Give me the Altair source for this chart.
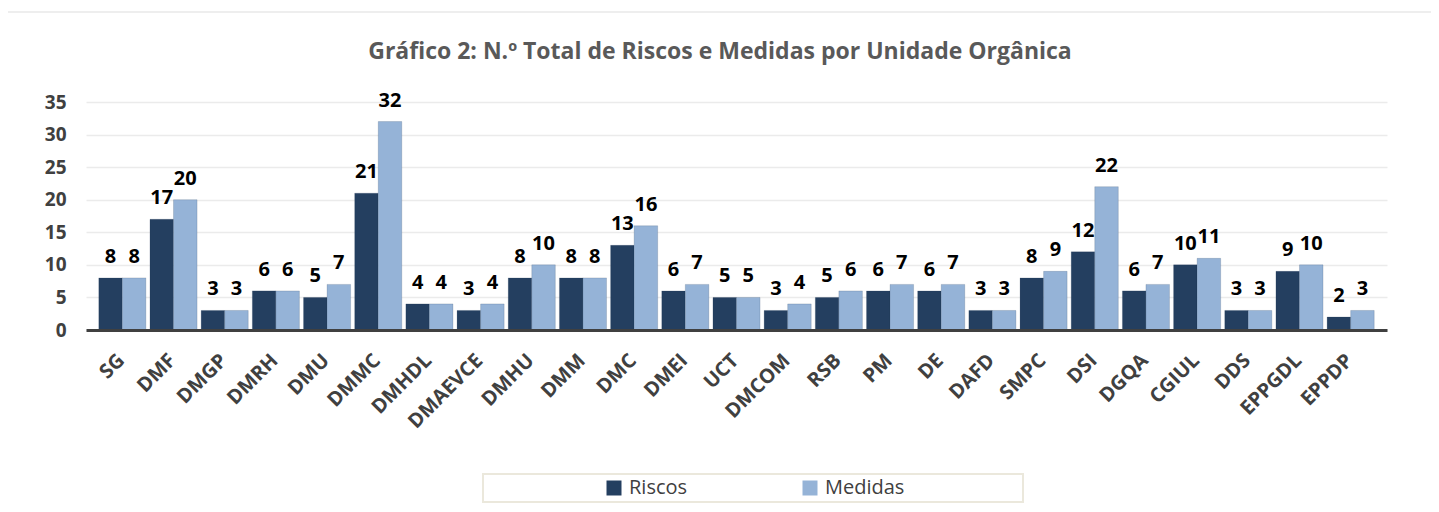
import altair as alt
import pandas as pd

categories = ["SG", "DMF", "DMGP", "DMRH", "DMU", "DMMC", "DMHDL", "DMAEVCE", "DMHU", "DMM",
              "DMC", "DMEI", "UCT", "DMCOM", "RSB", "PM", "DE", "DAFD", "SMPC", "DSI",
              "DGQA", "CGIUL", "DDS", "EPPGDL", "EPPDP"]
riscos = [8, 17, 3, 6, 5, 21, 4, 3, 8, 8, 13, 6, 5, 3, 5, 6, 6, 3, 8, 12, 6, 10, 3, 9, 2]
medidas = [8, 20, 3, 6, 7, 32, 4, 4, 10, 8, 16, 7, 5, 4, 6, 7, 7, 3, 9, 22, 7, 11, 3, 10, 3]
series = ["Riscos", "Medidas"]
colors = ["#243F60", "#95B3D7"]
y_ticks = [0, 5, 10, 15, 20, 25, 30, 35]
title_text = "Gráfico 2: N.º Total de Riscos e Medidas por Unidade Orgânica"

rows = []
for c, r, m in zip(categories, riscos, medidas):
    rows.append({"Unidade": c, "Série": "Riscos", "Valor": r})
    rows.append({"Unidade": c, "Série": "Medidas", "Valor": m})
df = pd.DataFrame(rows)

FONT = "Open Sans"
W, H = 1301, 228

x_enc = alt.X("Unidade:N", sort=categories,
              scale=alt.Scale(paddingInner=0.08, paddingOuter=0.25),
              axis=alt.Axis(title=None, labelAngle=-45, labelAlign="right", labelBaseline="top",
                            labelFont=FONT, labelFontSize=20, labelFontWeight="bold",
                            labelColor="#404040", labelPadding=20, labelOffset=-8, ticks=False,
                            tickSize=0, labelOverlap=False,
                            domainColor="#404040", domainWidth=3, grid=False, zindex=1))
y_enc = alt.Y("Valor:Q", scale=alt.Scale(domain=[0, 35], nice=False),
              axis=alt.Axis(title=None, values=y_ticks, labelFont=FONT, labelFontSize=19,
                            labelFontWeight="bold", labelColor="#404040", labelPadding=20,
                            labelOverlap=False, tickSize=0,
                            ticks=False, domain=False, grid=True, gridColor="#ebebeb",
                            gridWidth=1.5))
xoff = alt.XOffset("Série:N", sort=series, scale=alt.Scale(paddingInner=0, paddingOuter=0))
color_enc = alt.Color("Série:N", sort=series,
                      scale=alt.Scale(domain=series, range=colors),
                      legend=alt.Legend(title=None, orient="none", legendX=518, legendY=376,
                                        direction="horizontal", symbolType="square",
                                        symbolSize=225, symbolStrokeWidth=0,
                                        labelFont=FONT, labelFontSize=20, labelColor="#404040",
                                        labelOffset=5, columnPadding=112))

frame_df = pd.DataFrame({"k": [0]})
outer = alt.Chart(frame_df).mark_rect(fill="white", fillOpacity=0, stroke="#eeeeee",
                                      strokeWidth=2).encode(
    x=alt.value(-80), x2=alt.value(1346), y=alt.value(-90), y2=alt.value(420))
legend_box = alt.Chart(frame_df).mark_rect(fill="white", stroke="#ebe8dc", strokeWidth=2).encode(
    x=alt.value(397), x2=alt.value(937), y=alt.value(372), y2=alt.value(400))
title_mark = alt.Chart(pd.DataFrame({"t": [title_text]})).mark_text(
    font=FONT, fontSize=23, fontWeight="bold", color="#595959", align="center",
    baseline="middle").encode(x=alt.value(634), y=alt.value(-50), text="t:N")

bars = alt.Chart(df).mark_bar(stroke="#1c3350", strokeWidth=0.5, strokeOpacity=0.35).encode(
    x=x_enc, y=y_enc, xOffset=xoff, color=color_enc)
labels = alt.Chart(df).mark_text(font=FONT, fontSize=20, fontWeight="bold", color="black",
                                 baseline="bottom", dy=-11).encode(
    x=x_enc, y=y_enc, xOffset=xoff, text="Valor:Q")

chart = alt.layer(outer, legend_box, title_mark, bars, labels).properties(
    width=W, height=H,
    autosize=alt.AutoSizeParams(type="none"),
    padding={"left": 78, "top": 94, "right": 44, "bottom": 174},
).configure_view(stroke=None)

chart.save("out.html", embed_options={"renderer": "svg", "actions": False})
